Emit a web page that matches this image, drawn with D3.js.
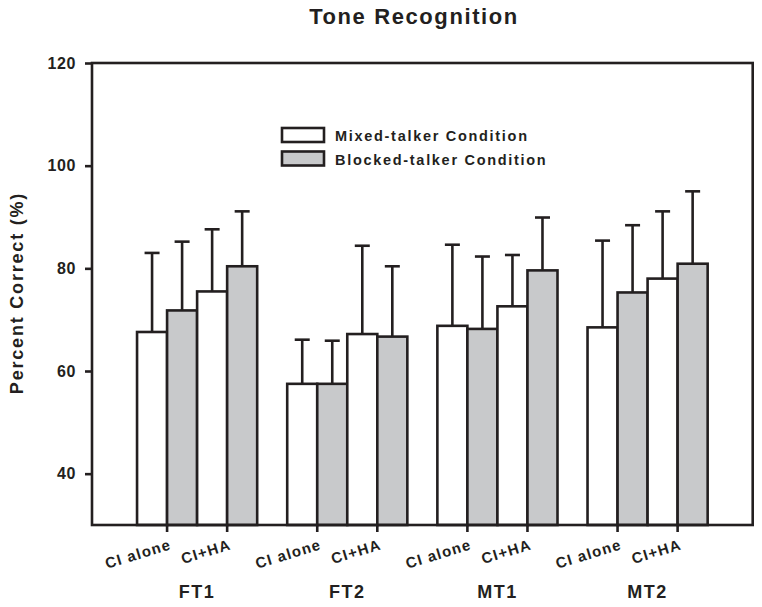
<!DOCTYPE html>
<html>
<head>
<meta charset="utf-8">
<script src="https://cdn.jsdelivr.net/npm/d3@7"></script>
<style>
  html, body { margin: 0; padding: 0; background: #fff; }
  svg { display: block; }
  text { font-family: "Liberation Sans", Arial, sans-serif; font-weight: bold; fill: #231f20; }
</style>
</head>
<body>
<svg id="chart" width="762" height="607"></svg>
<script>
const groups = ["FT1", "FT2", "MT1", "MT2"];
const conditions = ["CI alone", "CI+HA"];
const seriesNames = ["Mixed-talker Condition", "Blocked-talker Condition"];
const mixedMeans   = [[67.6, 75.5], [57.5, 67.2], [68.8, 72.6], [68.5, 78.0]];
const mixedSD      = [[15.4, 12.1], [8.6, 17.2], [15.8, 10.0], [16.9, 13.1]];
const blockedMeans = [[71.8, 80.4], [57.5, 66.7], [68.2, 79.6], [75.3, 80.9]];
const blockedSD    = [[13.4, 10.7], [8.4, 13.7], [14.1, 10.3], [13.1, 14.1]];
const yTicks = [40, 60, 80, 100, 120];
const yDomain = [30, 120];

const ink = "#231f20";
const fills = ["#ffffff", "#c8c9cb"];
const sw = 2.6;

const svg = d3.select("#chart");
const L = 92, R = 752.7, T = 63, B = 525;

const y = d3.scaleLinear().domain(yDomain).range([B, T]);
const xg = d3.scaleBand().domain(groups).range([L, R]).paddingInner(0.2).paddingOuter(0.3);
const slots = ["0-0", "0-1", "1-0", "1-1"]; // condition-series
const xi = d3.scaleBand().domain(slots).range([0, xg.bandwidth()]).padding(0);

const rows = [];
groups.forEach((g, gi) => {
  conditions.forEach((c, ci) => {
    rows.push({g, ci, s: 0, mean: mixedMeans[gi][ci], sd: mixedSD[gi][ci]});
    rows.push({g, ci, s: 1, mean: blockedMeans[gi][ci], sd: blockedSD[gi][ci]});
  });
});
const bx = d => xg(d.g) + xi(d.ci + "-" + d.s);

// error bars
const capW = 15;
const eb = svg.append("g").attr("stroke", ink).attr("stroke-width", sw);
rows.forEach(d => {
  const cx = bx(d) + xi.bandwidth() / 2;
  eb.append("line").attr("x1", cx).attr("x2", cx).attr("y1", y(d.mean)).attr("y2", y(d.mean + d.sd));
  eb.append("line").attr("x1", cx - capW / 2).attr("x2", cx + capW / 2).attr("y1", y(d.mean + d.sd)).attr("y2", y(d.mean + d.sd));
});

// bars
svg.append("g").selectAll("rect").data(rows).join("rect")
  .attr("x", d => bx(d))
  .attr("y", d => y(d.mean))
  .attr("width", xi.bandwidth())
  .attr("height", d => y(yDomain[0]) - y(d.mean))
  .attr("fill", d => fills[d.s])
  .attr("stroke", ink)
  .attr("stroke-width", sw);

// frame
svg.append("rect").attr("x", L).attr("y", T).attr("width", R - L).attr("height", B - T)
  .attr("fill", "none").attr("stroke", ink).attr("stroke-width", sw);

// y axis
const yAxis = svg.append("g").attr("transform", `translate(${L},0)`)
  .call(d3.axisLeft(y).tickValues(yTicks).tickSize(7).tickPadding(9));
yAxis.select(".domain").remove();
yAxis.selectAll("line").attr("stroke", ink).attr("stroke-width", sw);
yAxis.selectAll("text").attr("font-size", 16).attr("font-family", null).attr("fill", ink)
  .style("letter-spacing", "0.6px");

// bottom ticks and labels
const tickG = svg.append("g");
groups.forEach(g => {
  conditions.forEach((c, ci) => {
    const tx = xg(g) + xi(ci + "-1");
    tickG.append("line").attr("x1", tx).attr("x2", tx).attr("y1", B).attr("y2", B + 7)
      .attr("stroke", ink).attr("stroke-width", sw);
    tickG.append("text")
      .attr("transform", `translate(${tx + 5},${B + 24}) rotate(-17)`)
      .attr("text-anchor", "end")
      .attr("font-size", 15)
      .style("letter-spacing", "1.2px")
      .text(c);
  });
  svg.append("text")
    .attr("x", xg(g) + xg.bandwidth() / 2)
    .attr("y", 598)
    .attr("text-anchor", "middle")
    .attr("font-size", 18)
    .style("letter-spacing", "1.5px")
    .text(g);
});

// title
svg.append("text").attr("x", 414).attr("y", 24).attr("text-anchor", "middle")
  .attr("font-size", 22).style("letter-spacing", "1.6px").text("Tone Recognition");

// y title
svg.append("text").attr("transform", "translate(23,293) rotate(-90)")
  .attr("text-anchor", "middle").attr("font-size", 18).style("letter-spacing", "1.8px")
  .text("Percent Correct (%)");

// legend
const leg = svg.append("g");
seriesNames.forEach((n, i) => {
  const yy = 128 + i * 23.5;
  leg.append("rect").attr("x", 282).attr("y", yy).attr("width", 42).attr("height", 14)
    .attr("fill", fills[i]).attr("stroke", ink).attr("stroke-width", sw);
  leg.append("text").attr("x", 335).attr("y", yy + 13).attr("font-size", 14.5)
    .style("letter-spacing", "1.7px").text(n);
});
</script>
</body>
</html>
